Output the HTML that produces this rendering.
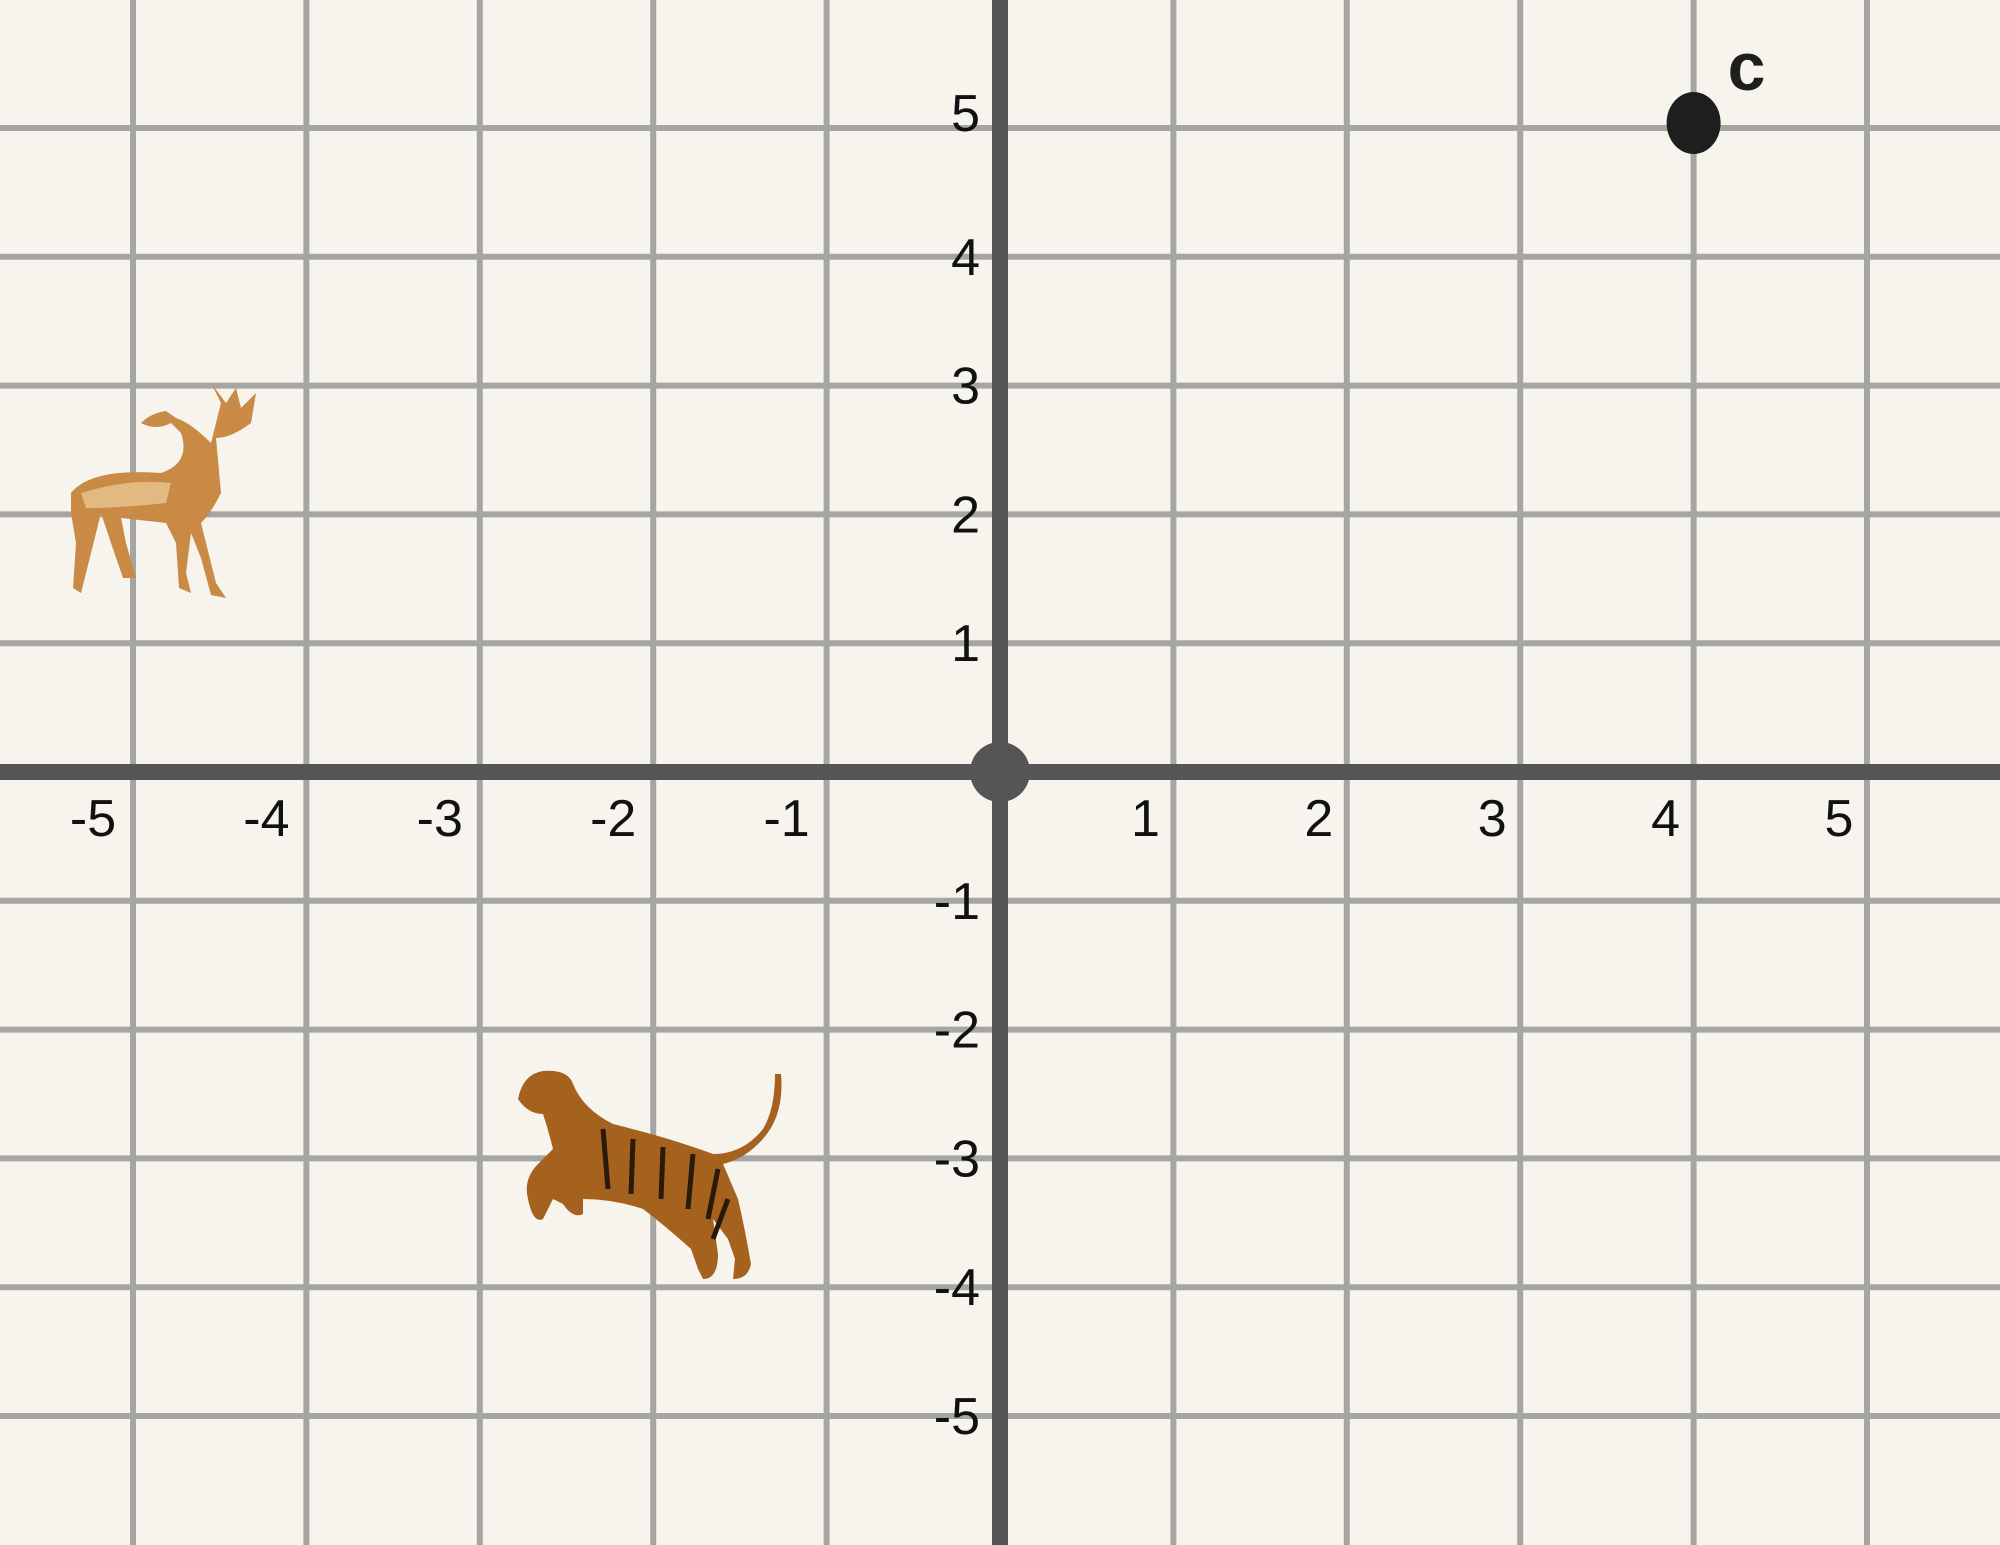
<!DOCTYPE html>
<html><head><meta charset="utf-8"><style>
html,body{margin:0;padding:0;background:#f6f4ec;}
svg{display:block;font-family:"Liberation Sans",sans-serif;}
</style></head><body>
<svg id="chart" width="2000" height="1545" viewBox="0 0 2000 1545">
<rect width="2000" height="1545" fill="#f6f4ec"/>
<g id="grid"></g><g id="axes"></g><g id="labels"></g><g id="points"></g>
<g transform="translate(51,383)">
  <path d="M20 110 Q40 85 110 90 Q140 80 130 50 L120 40 Q105 48 90 40 Q100 30 115 28 L125 35 Q140 40 160 60 L170 20 L160 0 L175 20 L185 5 L190 25 L205 10 L200 40 Q180 55 165 55 L170 110 Q160 130 150 140 L165 200 L175 215 L160 212 L150 175 L140 150 L135 190 L140 210 L128 205 L125 160 L115 140 L70 135 L75 160 L85 195 L72 195 L60 160 L50 130 L40 170 L30 210 L22 205 L25 160 L20 130 Z" fill="#c98a45"/>
  <path d="M30 110 Q80 95 120 100 L115 120 Q70 125 35 125 Z" fill="#e8c590" opacity="0.8"/>
</g>
<g transform="translate(513,1069)">
  <path d="M5 30 Q10 5 30 2 Q55 0 60 15 Q70 40 100 55 Q160 70 200 85 Q230 85 250 60 Q262 40 262 5 L268 5 Q272 50 245 75 Q230 90 210 95 L225 130 Q232 160 238 195 Q235 210 220 210 L222 190 L215 170 L200 150 L205 185 Q205 210 190 210 L185 200 L178 180 Q150 155 130 140 Q100 130 70 130 L70 145 Q60 150 50 135 L40 130 L30 150 Q20 155 15 130 Q10 110 25 95 L40 80 Q35 60 30 45 Q15 45 5 30 Z" fill="#a5621f"/>
  <path d="M90 60 L95 120 M120 70 L118 125 M150 78 L148 130 M180 85 L175 140 M205 100 L195 150 M215 130 L200 170" stroke="#2a1a0a" stroke-width="5" fill="none"/>
</g>
</svg>
<script>
const xTicks=[-5,-4,-3,-2,-1,1,2,3,4,5];
const yTicks=[5,4,3,2,1,-1,-2,-3,-4,-5];
const pointX=[4];
const pointY=[5];
const pointLabels=["c"];
const NS="http://www.w3.org/2000/svg";
function sx(v){return 1000+v*173.4;}
function sy(v){return 772-v*128.8;}
function el(t,a,p){const e=document.createElementNS(NS,t);for(const k in a)e.setAttribute(k,a[k]);document.getElementById(p).appendChild(e);return e;}
xTicks.forEach(v=>{
  const l=el('line',{x1:sx(v),x2:sx(v),y1:0,y2:1545,stroke:'#a5a5a3','stroke-width':6},'grid');
  
  
  const t=el('text',{x:sx(v)+(v<0?-40:-28),y:836,'font-size':52,'text-anchor':'middle',fill:'#111'},'labels');
  t.textContent=String(v);
  
  
});
yTicks.forEach(v=>{
  const l=el('line',{x1:0,x2:2000,y1:sy(v),y2:sy(v),stroke:'#a5a5a3','stroke-width':6},'grid');
  
  
  const t=el('text',{x:980,y:sy(v)+(v===5?3:18),'font-size':52,'text-anchor':'end',fill:'#111'},'labels');
  t.textContent=String(v);
  
  
});
let a=el('line',{x1:0,x2:2000,y1:sy(0),y2:sy(0),stroke:'#555','stroke-width':16},'axes');


a=el('line',{x1:sx(0),x2:sx(0),y1:0,y2:1545,stroke:'#555','stroke-width':16},'axes');


a=el('circle',{cx:sx(0),cy:sy(0),r:30,fill:'#555'},'axes');


pointX.forEach((v,i)=>{
  const c=el('ellipse',{cx:sx(v),cy:sy(pointY[i])-5,rx:27,ry:31,fill:'#1e1e1e'},'points');
  
  
  const t=el('text',{x:sx(v)+34,y:sy(pointY[i])-38,'font-size':68,'font-weight':'bold',fill:'#1e1e1e'},'points');
  t.textContent=pointLabels[i];
  
  
});
</script>
</body></html>
